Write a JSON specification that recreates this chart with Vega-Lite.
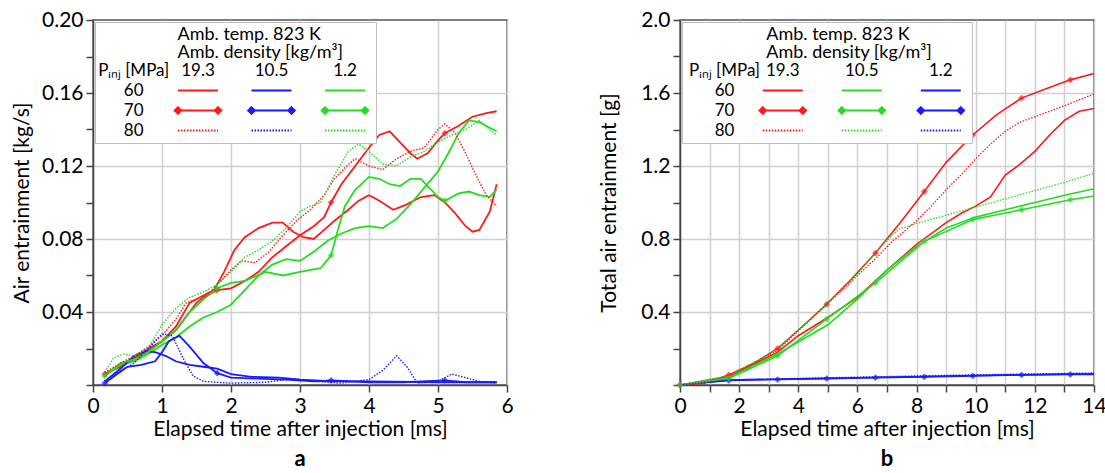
{
  "$schema": "https://vega.github.io/schema/vega-lite/v6.json",
  "background": "white",
  "padding": {"left": 10, "top": 8, "right": 2, "bottom": 2},
  "spacing": 83,
  "resolve": {"scale": {"color": "independent"}, "legend": {"color": "independent"}},
  "config": {
    "font": "Lato",
    "view": {"stroke": "#555", "strokeWidth": 1.5},
    "axis": {"labelFont": "Lato", "titleFont": "Lato", "labelFontSize": 21, "titleFontSize": 21, "titleFontWeight": "normal", "labelColor": "#000", "titleColor": "#000", "domainColor": "#444", "domainWidth": 1.5, "tickColor": "#444", "tickWidth": 1.5, "tickSize": 7, "labelPadding": 3, "titlePadding": 6, "gridColor": "#d0d0d0", "gridWidth": 1.5, "labelFlush": false, "labelOverlap": false},
    "axisX": {"titlePadding": 2},
    "legend": {"orient": "top-left", "offset": 2, "columns": 4, "gridAlign": "all", "rowPadding": 2, "symbolSize": 64, "symbolStrokeWidth": 1.8, "labelAlign": "center", "labelFont": "Lato", "labelFontSize": 17, "labelColor": "#000", "titleFont": "Lato", "titleFontSize": 18, "titleFontWeight": "normal", "titleColor": "#000", "titleLineHeight": 18, "titlePadding": 0, "titleLimit": 400, "padding": 4, "strokeColor": "#bdbdbd", "fillColor": "#fff", "direction": "vertical"},
    "title": {"font": "Lato", "fontSize": 22, "fontWeight": "bold", "color": "#000"}
  },
  "datasets": {
    "pa": [
      {"k":"s60a","t":0.17,"v":0.006},{"k":"s60a","t":0.4,"v":0.011},{"k":"s60a","t":0.6,"v":0.015},{"k":"s60a","t":0.8,"v":0.019},{"k":"s60a","t":1.0,"v":0.024},{"k":"s60a","t":1.2,"v":0.032},{"k":"s60a","t":1.4,"v":0.045},{"k":"s60a","t":1.6,"v":0.049},{"k":"s60a","t":1.75,"v":0.052},{"k":"s60a","t":1.9,"v":0.062},{"k":"s60a","t":2.05,"v":0.074},{"k":"s60a","t":2.2,"v":0.081},{"k":"s60a","t":2.4,"v":0.086},{"k":"s60a","t":2.6,"v":0.089},{"k":"s60a","t":2.75,"v":0.089},{"k":"s60a","t":2.9,"v":0.084},{"k":"s60a","t":3.05,"v":0.081},{"k":"s60a","t":3.2,"v":0.080},{"k":"s60a","t":3.35,"v":0.085},{"k":"s60a","t":3.5,"v":0.090},{"k":"s60a","t":3.7,"v":0.096},{"k":"s60a","t":3.85,"v":0.101},{"k":"s60a","t":4.0,"v":0.104},{"k":"s60a","t":4.15,"v":0.101},{"k":"s60a","t":4.35,"v":0.096},{"k":"s60a","t":4.55,"v":0.099},{"k":"s60a","t":4.75,"v":0.103},{"k":"s60a","t":4.95,"v":0.104},{"k":"s60a","t":5.1,"v":0.100},{"k":"s60a","t":5.25,"v":0.094},{"k":"s60a","t":5.4,"v":0.087},{"k":"s60a","t":5.5,"v":0.084},{"k":"s60a","t":5.6,"v":0.085},{"k":"s60a","t":5.75,"v":0.095},{"k":"s60a","t":5.85,"v":0.110},
      {"k":"s80a","t":0.17,"v":0.007},{"k":"s80a","t":0.4,"v":0.012},{"k":"s80a","t":0.6,"v":0.016},{"k":"s80a","t":0.8,"v":0.021},{"k":"s80a","t":1.0,"v":0.027},{"k":"s80a","t":1.2,"v":0.036},{"k":"s80a","t":1.35,"v":0.045},{"k":"s80a","t":1.5,"v":0.047},{"k":"s80a","t":1.65,"v":0.049},{"k":"s80a","t":1.8,"v":0.055},{"k":"s80a","t":2.0,"v":0.063},{"k":"s80a","t":2.15,"v":0.068},{"k":"s80a","t":2.35,"v":0.067},{"k":"s80a","t":2.55,"v":0.073},{"k":"s80a","t":2.75,"v":0.082},{"k":"s80a","t":2.95,"v":0.090},{"k":"s80a","t":3.15,"v":0.096},{"k":"s80a","t":3.35,"v":0.104},{"k":"s80a","t":3.5,"v":0.113},{"k":"s80a","t":3.65,"v":0.119},{"k":"s80a","t":3.8,"v":0.124},{"k":"s80a","t":4.0,"v":0.120},{"k":"s80a","t":4.2,"v":0.118},{"k":"s80a","t":4.4,"v":0.124},{"k":"s80a","t":4.6,"v":0.128},{"k":"s80a","t":4.8,"v":0.130},{"k":"s80a","t":5.0,"v":0.140},{"k":"s80a","t":5.1,"v":0.143},{"k":"s80a","t":5.25,"v":0.138},{"k":"s80a","t":5.4,"v":0.127},{"k":"s80a","t":5.55,"v":0.115},{"k":"s80a","t":5.7,"v":0.104},{"k":"s80a","t":5.85,"v":0.098},
      {"k":"s70a","t":0.17,"v":0.006,"m":1},{"k":"s70a","t":0.4,"v":0.010},{"k":"s70a","t":0.6,"v":0.014},{"k":"s70a","t":0.8,"v":0.020},{"k":"s70a","t":1.0,"v":0.024},{"k":"s70a","t":1.2,"v":0.030},{"k":"s70a","t":1.4,"v":0.040},{"k":"s70a","t":1.5,"v":0.045},{"k":"s70a","t":1.6,"v":0.048},{"k":"s70a","t":1.8,"v":0.052,"m":1},{"k":"s70a","t":2.0,"v":0.053},{"k":"s70a","t":2.2,"v":0.057},{"k":"s70a","t":2.4,"v":0.062},{"k":"s70a","t":2.6,"v":0.070},{"k":"s70a","t":2.8,"v":0.076},{"k":"s70a","t":3.0,"v":0.082},{"k":"s70a","t":3.2,"v":0.087},{"k":"s70a","t":3.35,"v":0.092},{"k":"s70a","t":3.45,"v":0.100,"m":1},{"k":"s70a","t":3.6,"v":0.110},{"k":"s70a","t":3.8,"v":0.120},{"k":"s70a","t":4.0,"v":0.130},{"k":"s70a","t":4.15,"v":0.137},{"k":"s70a","t":4.3,"v":0.139},{"k":"s70a","t":4.45,"v":0.133},{"k":"s70a","t":4.6,"v":0.127},{"k":"s70a","t":4.7,"v":0.124},{"k":"s70a","t":4.85,"v":0.127},{"k":"s70a","t":5.0,"v":0.134},{"k":"s70a","t":5.1,"v":0.138,"m":1},{"k":"s70a","t":5.3,"v":0.142},{"k":"s70a","t":5.5,"v":0.147},{"k":"s70a","t":5.7,"v":0.149},{"k":"s70a","t":5.85,"v":0.150},
      {"k":"s60c","t":0.17,"v":0.005},{"k":"s60c","t":0.4,"v":0.011},{"k":"s60c","t":0.6,"v":0.013},{"k":"s60c","t":0.8,"v":0.017},{"k":"s60c","t":1.0,"v":0.022},{"k":"s60c","t":1.2,"v":0.026},{"k":"s60c","t":1.4,"v":0.032},{"k":"s60c","t":1.6,"v":0.037},{"k":"s60c","t":1.8,"v":0.040},{"k":"s60c","t":2.0,"v":0.044},{"k":"s60c","t":2.2,"v":0.052},{"k":"s60c","t":2.4,"v":0.060},{"k":"s60c","t":2.6,"v":0.066},{"k":"s60c","t":2.8,"v":0.069},{"k":"s60c","t":3.0,"v":0.068},{"k":"s60c","t":3.2,"v":0.073},{"k":"s60c","t":3.4,"v":0.079},{"k":"s60c","t":3.6,"v":0.083},{"k":"s60c","t":3.8,"v":0.086},{"k":"s60c","t":4.0,"v":0.087},{"k":"s60c","t":4.2,"v":0.086},{"k":"s60c","t":4.4,"v":0.091},{"k":"s60c","t":4.6,"v":0.099},{"k":"s60c","t":4.8,"v":0.108},{"k":"s60c","t":5.0,"v":0.117},{"k":"s60c","t":5.15,"v":0.127},{"k":"s60c","t":5.3,"v":0.138},{"k":"s60c","t":5.45,"v":0.145},{"k":"s60c","t":5.6,"v":0.144},{"k":"s60c","t":5.75,"v":0.141},{"k":"s60c","t":5.85,"v":0.139},
      {"k":"s80c","t":0.17,"v":0.007},{"k":"s80c","t":0.3,"v":0.015},{"k":"s80c","t":0.45,"v":0.017},{"k":"s80c","t":0.6,"v":0.016},{"k":"s80c","t":0.8,"v":0.020},{"k":"s80c","t":1.0,"v":0.033},{"k":"s80c","t":1.2,"v":0.042},{"k":"s80c","t":1.4,"v":0.048},{"k":"s80c","t":1.6,"v":0.051},{"k":"s80c","t":1.8,"v":0.055},{"k":"s80c","t":2.0,"v":0.062},{"k":"s80c","t":2.2,"v":0.070},{"k":"s80c","t":2.4,"v":0.074},{"k":"s80c","t":2.6,"v":0.079},{"k":"s80c","t":2.8,"v":0.086},{"k":"s80c","t":3.0,"v":0.095},{"k":"s80c","t":3.15,"v":0.098},{"k":"s80c","t":3.3,"v":0.100},{"k":"s80c","t":3.5,"v":0.115},{"k":"s80c","t":3.7,"v":0.128},{"k":"s80c","t":3.85,"v":0.132},{"k":"s80c","t":4.0,"v":0.128},{"k":"s80c","t":4.2,"v":0.121},{"k":"s80c","t":4.4,"v":0.120},{"k":"s80c","t":4.6,"v":0.125},{"k":"s80c","t":4.8,"v":0.128},{"k":"s80c","t":5.0,"v":0.133},{"k":"s80c","t":5.2,"v":0.137},{"k":"s80c","t":5.4,"v":0.140},{"k":"s80c","t":5.6,"v":0.145},{"k":"s80c","t":5.75,"v":0.140},{"k":"s80c","t":5.85,"v":0.137},
      {"k":"s60b","t":0.17,"v":0.002},{"k":"s60b","t":0.4,"v":0.009},{"k":"s60b","t":0.6,"v":0.016},{"k":"s60b","t":0.75,"v":0.0185},{"k":"s60b","t":0.9,"v":0.018},{"k":"s60b","t":1.05,"v":0.016},{"k":"s60b","t":1.2,"v":0.013},{"k":"s60b","t":1.4,"v":0.011},{"k":"s60b","t":1.6,"v":0.010},{"k":"s60b","t":1.8,"v":0.009},{"k":"s60b","t":2.0,"v":0.006},{"k":"s60b","t":2.3,"v":0.0045},{"k":"s60b","t":2.7,"v":0.004},{"k":"s60b","t":3.0,"v":0.003},{"k":"s60b","t":3.5,"v":0.002},{"k":"s60b","t":4.0,"v":0.002},{"k":"s60b","t":5.0,"v":0.0015},{"k":"s60b","t":5.85,"v":0.0015},
      {"k":"s80b","t":0.17,"v":0.002},{"k":"s80b","t":0.4,"v":0.008},{"k":"s80b","t":0.6,"v":0.012},{"k":"s80b","t":0.8,"v":0.020},{"k":"s80b","t":1.0,"v":0.028},{"k":"s80b","t":1.15,"v":0.027},{"k":"s80b","t":1.3,"v":0.015},{"k":"s80b","t":1.45,"v":0.005},{"k":"s80b","t":1.6,"v":0.002},{"k":"s80b","t":2.0,"v":0.001},{"k":"s80b","t":2.5,"v":0.0015},{"k":"s80b","t":2.9,"v":0.0035},{"k":"s80b","t":3.2,"v":0.002},{"k":"s80b","t":3.6,"v":0.001},{"k":"s80b","t":4.0,"v":0.003},{"k":"s80b","t":4.2,"v":0.008},{"k":"s80b","t":4.4,"v":0.016},{"k":"s80b","t":4.55,"v":0.010},{"k":"s80b","t":4.7,"v":0.001},{"k":"s80b","t":5.0,"v":0.002},{"k":"s80b","t":5.2,"v":0.006},{"k":"s80b","t":5.4,"v":0.004},{"k":"s80b","t":5.6,"v":0.002},{"k":"s80b","t":5.85,"v":0.001},
      {"k":"s70b","t":0.17,"v":0.001,"m":1},{"k":"s70b","t":0.35,"v":0.006},{"k":"s70b","t":0.5,"v":0.010},{"k":"s70b","t":0.7,"v":0.011},{"k":"s70b","t":0.9,"v":0.013},{"k":"s70b","t":1.0,"v":0.018},{"k":"s70b","t":1.1,"v":0.024},{"k":"s70b","t":1.25,"v":0.027},{"k":"s70b","t":1.4,"v":0.021},{"k":"s70b","t":1.6,"v":0.012},{"k":"s70b","t":1.8,"v":0.0065,"m":1},{"k":"s70b","t":2.0,"v":0.004},{"k":"s70b","t":2.4,"v":0.0035},{"k":"s70b","t":2.8,"v":0.003},{"k":"s70b","t":3.2,"v":0.002},{"k":"s70b","t":3.45,"v":0.0025,"m":1},{"k":"s70b","t":4.0,"v":0.0015},{"k":"s70b","t":4.5,"v":0.0015},{"k":"s70b","t":5.1,"v":0.0025,"m":1},{"k":"s70b","t":5.4,"v":0.0015},{"k":"s70b","t":5.85,"v":0.0015},
      {"k":"s70c","t":0.17,"v":0.005,"m":1},{"k":"s70c","t":0.4,"v":0.012},{"k":"s70c","t":0.6,"v":0.014},{"k":"s70c","t":0.8,"v":0.018},{"k":"s70c","t":1.0,"v":0.024},{"k":"s70c","t":1.2,"v":0.030},{"k":"s70c","t":1.4,"v":0.040},{"k":"s70c","t":1.6,"v":0.047},{"k":"s70c","t":1.8,"v":0.053,"m":1},{"k":"s70c","t":2.0,"v":0.056},{"k":"s70c","t":2.2,"v":0.057},{"k":"s70c","t":2.5,"v":0.062},{"k":"s70c","t":2.75,"v":0.060},{"k":"s70c","t":3.0,"v":0.062},{"k":"s70c","t":3.3,"v":0.064},{"k":"s70c","t":3.45,"v":0.071,"m":1},{"k":"s70c","t":3.55,"v":0.085},{"k":"s70c","t":3.65,"v":0.098},{"k":"s70c","t":3.8,"v":0.107},{"k":"s70c","t":4.0,"v":0.114},{"k":"s70c","t":4.15,"v":0.113},{"k":"s70c","t":4.3,"v":0.110},{"k":"s70c","t":4.45,"v":0.109},{"k":"s70c","t":4.6,"v":0.113},{"k":"s70c","t":4.75,"v":0.113},{"k":"s70c","t":4.9,"v":0.107},{"k":"s70c","t":5.0,"v":0.103},{"k":"s70c","t":5.1,"v":0.101,"m":1},{"k":"s70c","t":5.3,"v":0.105},{"k":"s70c","t":5.45,"v":0.106},{"k":"s70c","t":5.6,"v":0.104},{"k":"s70c","t":5.75,"v":0.103},{"k":"s70c","t":5.85,"v":0.107}
    ],
    "pb": [
      {"k":"s60a","t":0,"v":0},{"k":"s60a","t":1.65,"v":0.045},{"k":"s60a","t":3.3,"v":0.18},{"k":"s60a","t":4.0,"v":0.27},{"k":"s60a","t":5.0,"v":0.37},{"k":"s60a","t":6.0,"v":0.48},{"k":"s60a","t":7.0,"v":0.63},{"k":"s60a","t":8.0,"v":0.77},{"k":"s60a","t":8.5,"v":0.83},{"k":"s60a","t":9.0,"v":0.89},{"k":"s60a","t":9.5,"v":0.94},{"k":"s60a","t":10.0,"v":0.98},{"k":"s60a","t":10.5,"v":1.03},{"k":"s60a","t":11.0,"v":1.15},{"k":"s60a","t":11.5,"v":1.21},{"k":"s60a","t":12.0,"v":1.28},{"k":"s60a","t":12.5,"v":1.37},{"k":"s60a","t":13.0,"v":1.45},{"k":"s60a","t":13.5,"v":1.50},{"k":"s60a","t":14.0,"v":1.515},
      {"k":"s80a","t":0,"v":0},{"k":"s80a","t":1.65,"v":0.05},{"k":"s80a","t":3.3,"v":0.19},{"k":"s80a","t":4.96,"v":0.44},{"k":"s80a","t":6.0,"v":0.60},{"k":"s80a","t":6.6,"v":0.69},{"k":"s80a","t":7.2,"v":0.79},{"k":"s80a","t":8.0,"v":0.90},{"k":"s80a","t":8.5,"v":0.98},{"k":"s80a","t":9.0,"v":1.07},{"k":"s80a","t":9.5,"v":1.15},{"k":"s80a","t":10.0,"v":1.24},{"k":"s80a","t":10.5,"v":1.32},{"k":"s80a","t":11.0,"v":1.39},{"k":"s80a","t":11.5,"v":1.44},{"k":"s80a","t":12.0,"v":1.47},{"k":"s80a","t":13.0,"v":1.53},{"k":"s80a","t":14.0,"v":1.595},
      {"k":"s60b","t":0,"v":0},{"k":"s60b","t":1.65,"v":0.04},{"k":"s60b","t":3.3,"v":0.17},{"k":"s60b","t":5.0,"v":0.33},{"k":"s60b","t":6.0,"v":0.47},{"k":"s60b","t":7.0,"v":0.63},{"k":"s60b","t":8.0,"v":0.76},{"k":"s60b","t":9.0,"v":0.86},{"k":"s60b","t":10.0,"v":0.92},{"k":"s60b","t":11.0,"v":0.96},{"k":"s60b","t":12.0,"v":1.0},{"k":"s60b","t":13.0,"v":1.04},{"k":"s60b","t":14.0,"v":1.075},
      {"k":"s80b","t":0,"v":0},{"k":"s80b","t":1.65,"v":0.05},{"k":"s80b","t":3.3,"v":0.195},{"k":"s80b","t":4.96,"v":0.44},{"k":"s80b","t":6.0,"v":0.61},{"k":"s80b","t":6.8,"v":0.76},{"k":"s80b","t":7.4,"v":0.855},{"k":"s80b","t":8.0,"v":0.885},{"k":"s80b","t":9.0,"v":0.93},{"k":"s80b","t":10.0,"v":0.975},{"k":"s80b","t":11.0,"v":1.02},{"k":"s80b","t":12.0,"v":1.065},{"k":"s80b","t":13.0,"v":1.11},{"k":"s80b","t":14.0,"v":1.16},
      {"k":"s60c","t":0,"v":0},{"k":"s60c","t":1.65,"v":0.027},{"k":"s60c","t":5.0,"v":0.037},{"k":"s60c","t":10.0,"v":0.052},{"k":"s60c","t":14.0,"v":0.062},
      {"k":"s80c","t":0,"v":0},{"k":"s80c","t":1.65,"v":0.028},{"k":"s80c","t":5.0,"v":0.040},{"k":"s80c","t":10.0,"v":0.056},{"k":"s80c","t":14.0,"v":0.066},
      {"k":"s70c","t":0,"v":0,"m":1},{"k":"s70c","t":1.65,"v":0.025,"m":1},{"k":"s70c","t":3.3,"v":0.030,"m":1},{"k":"s70c","t":4.96,"v":0.035,"m":1},{"k":"s70c","t":6.61,"v":0.040,"m":1},{"k":"s70c","t":8.26,"v":0.044,"m":1},{"k":"s70c","t":9.9,"v":0.050,"m":1},{"k":"s70c","t":11.55,"v":0.055,"m":1},{"k":"s70c","t":13.2,"v":0.058,"m":1},{"k":"s70c","t":14,"v":0.058},
      {"k":"s70a","t":0,"v":0,"m":1},{"k":"s70a","t":0.8,"v":0.01},{"k":"s70a","t":1.65,"v":0.055,"m":1},{"k":"s70a","t":2.5,"v":0.12},{"k":"s70a","t":3.3,"v":0.200,"m":1},{"k":"s70a","t":4.1,"v":0.315},{"k":"s70a","t":4.96,"v":0.443,"m":1},{"k":"s70a","t":5.8,"v":0.58},{"k":"s70a","t":6.61,"v":0.723,"m":1},{"k":"s70a","t":7.4,"v":0.88},{"k":"s70a","t":8.26,"v":1.060,"m":1},{"k":"s70a","t":9.0,"v":1.22},{"k":"s70a","t":9.9,"v":1.370,"m":1},{"k":"s70a","t":10.7,"v":1.48},{"k":"s70a","t":11.55,"v":1.572,"m":1},{"k":"s70a","t":12.4,"v":1.625},{"k":"s70a","t":13.2,"v":1.672,"m":1},{"k":"s70a","t":14,"v":1.707},
      {"k":"s70b","t":0,"v":0,"m":1},{"k":"s70b","t":1.65,"v":0.036,"m":1},{"k":"s70b","t":3.3,"v":0.160,"m":1},{"k":"s70b","t":4.96,"v":0.361,"m":1},{"k":"s70b","t":6.61,"v":0.559,"m":1},{"k":"s70b","t":8.26,"v":0.787,"m":1},{"k":"s70b","t":9.9,"v":0.907,"m":1},{"k":"s70b","t":11.55,"v":0.960,"m":1},{"k":"s70b","t":13.2,"v":1.015,"m":1},{"k":"s70b","t":14,"v":1.036}
    ]
  },
  "hconcat": [
    {
      "width": 414, "height": 365,
      "data": {"name": "pa"},
      "title": {"text": "a", "orient": "bottom", "anchor": "middle", "offset": 10},
      "encoding": {
        "x": {"field": "t", "type": "quantitative", "scale": {"domain": [0, 6], "nice": false}, "axis": {"values": [0,1,2,3,4,5,6], "format": "d", "title": "Elapsed time after injection [ms]"}},
        "y": {"field": "v", "type": "quantitative", "scale": {"domain": [0, 0.2], "nice": false},
          "axis": {"title": "Air entrainment [kg/s]", "titlePadding": 9, "values": [0,0.02,0.04,0.06,0.08,0.1,0.12,0.14,0.16,0.18,0.2],
            "labelExpr": "datum.value > 0.001 && abs(datum.value*25 - round(datum.value*25)) < 0.001 ? format(datum.value, '.2f') : ''",
            "grid": true,
            "gridOpacity": {"condition": {"test": "datum.value > 0.001 && datum.value < 0.199 && abs(datum.value*25 - round(datum.value*25)) < 0.001", "value": 1}, "value": 0}}},
        "color": {"field": "k", "type": "nominal",
          "scale": {"domain": ["h0","r60","r70","r80","h1","s60a","s70a","s80a","h2","s60b","s70b","s80b","h3","s60c","s70c","s80c"],
                    "range": ["#ffffff","#ffffff","#ffffff","#ffffff","#ffffff","#ff1a1a","#ff1a1a","#ff1a1a","#ffffff","#1a1aff","#1a1aff","#1a1aff","#ffffff","#22dd22","#22dd22","#22dd22"]},
          "legend": {
            "title": ["Amb. temp. 823 K", "Amb. density [kg/m³]"],
            "titleFontSize": 18,
            "titleLimit": 400,
            "columnPadding": 0.5,
            "labelOffset": 8.5,
            "labelExpr": "datum.value == 'h0' ? 'Pᵢₙⱼ [MPa]' : datum.value == 'h1' ? '19.3' : datum.value == 'h2' ? '10.5' : datum.value == 'h3' ? '1.2' : datum.value == 'r60' ? '60' : datum.value == 'r70' ? '70' : datum.value == 'r80' ? '80' : ''",
            "encode": {
              "symbols": {"update": {
                "shape": {"signal": "indexof(['s70a','s70b','s70c'], datum.value) >= 0 ? 'M-0.75,0L9.25,0M-0.75,-0.85L0.1,0L-0.75,0.85L-1.6,0ZM9.25,-0.85L10.1,0L9.25,0.85L8.4,0Z' : 'M-0.75,0L9.25,0'"},
                "opacity": {"signal": "slice(datum.value, 0, 1) == 's' ? 1 : 0"},
                "strokeDash": {"signal": "indexof(['s80a','s80b','s80c'], datum.value) >= 0 ? [1.5, 1.5] : [1, 0]"}
              }},
              "labels": {"update": {"dx": {"signal": "indexof(['h0','r60','r70','r80'], datum.value) >= 0 ? 9.2 : 0"}}},
              "title": {"update": {"dx": {"value": 78.5}}}
            }
          }}
      },
      "layer": [
        {"transform": [{"filter": "indexof(['s80a','s80b','s80c'], datum.k) < 0"}], "mark": {"type": "line", "strokeWidth": 1.8}},
        {"transform": [{"filter": "indexof(['s80a','s80b','s80c'], datum.k) >= 0"}], "mark": {"type": "line", "strokeWidth": 1.4, "strokeDash": [1.5, 1.5]}},
        {"transform": [{"filter": "datum.m == 1"}], "mark": {"type": "point", "shape": "diamond", "filled": true, "size": 45}}
      ]
    },
    {
      "width": 414, "height": 365,
      "data": {"name": "pb"},
      "title": {"text": "b", "orient": "bottom", "anchor": "middle", "offset": 10},
      "encoding": {
        "x": {"field": "t", "type": "quantitative", "scale": {"domain": [0, 14], "nice": false}, "axis": {"values": [0,1,2,3,4,5,6,7,8,9,10,11,12,13,14], "labelExpr": "datum.value % 2 == 0 ? format(datum.value, 'd') : ''", "title": "Elapsed time after injection [ms]"}},
        "y": {"field": "v", "type": "quantitative", "scale": {"domain": [0, 2], "nice": false},
          "axis": {"title": "Total air entrainment [g]", "titlePadding": 21, "values": [0,0.2,0.4,0.6,0.8,1,1.2,1.4,1.6,1.8,2],
            "labelExpr": "datum.value > 0.01 && abs(datum.value*2.5 - round(datum.value*2.5)) < 0.001 ? format(datum.value, '.1f') : ''",
            "grid": true,
            "gridOpacity": {"condition": {"test": "datum.value > 0.01 && datum.value < 1.99 && abs(datum.value*2.5 - round(datum.value*2.5)) < 0.001", "value": 1}, "value": 0}}},
        "color": {"field": "k", "type": "nominal",
          "scale": {"domain": ["h0","r60","r70","r80","h1","s60a","s70a","s80a","h2","s60b","s70b","s80b","h3","s60c","s70c","s80c"],
                    "range": ["#ffffff","#ffffff","#ffffff","#ffffff","#ffffff","#ff1a1a","#ff1a1a","#ff1a1a","#ffffff","#22dd22","#22dd22","#22dd22","#ffffff","#1a1aff","#1a1aff","#1a1aff"]},
          "legend": {
            "title": ["Amb. temp. 823 K", "Amb. density [kg/m³]"],
            "titleFontSize": 18,
            "titleLimit": 400,
            "columnPadding": -6,
            "labelOffset": 0.8,
            "labelExpr": "datum.value == 'h0' ? 'Pᵢₙⱼ [MPa]' : datum.value == 'h1' ? '19.3' : datum.value == 'h2' ? '10.5' : datum.value == 'h3' ? '1.2' : datum.value == 'r60' ? '60' : datum.value == 'r70' ? '70' : datum.value == 'r80' ? '80' : ''",
            "encode": {
              "symbols": {"update": {
                "shape": {"signal": "indexof(['s70a','s70b','s70c'], datum.value) >= 0 ? 'M-2.675,0L7.325,0M-2.675,-0.85L-1.825,0L-2.675,0.85L-3.525,0ZM7.325,-0.85L8.175,0L7.325,0.85L6.475,0Z' : 'M-2.675,0L7.325,0'"},
                "opacity": {"signal": "slice(datum.value, 0, 1) == 's' ? 1 : 0"},
                "strokeDash": {"signal": "indexof(['s80a','s80b','s80c'], datum.value) >= 0 ? [1.5, 1.5] : [1, 0]"}
              }},
              "labels": {"update": {"dx": {"signal": "indexof(['h0','r60','r70','r80'], datum.value) >= 0 ? 20.7 : 0"}}},
              "title": {"update": {"dx": {"value": 80.3}}}
            }
          }}
      },
      "layer": [
        {"transform": [{"filter": "indexof(['s80a','s80b','s80c'], datum.k) < 0"}], "mark": {"type": "line", "strokeWidth": 1.6}},
        {"transform": [{"filter": "indexof(['s80a','s80b','s80c'], datum.k) >= 0"}], "mark": {"type": "line", "strokeWidth": 1.3, "strokeDash": [1.5, 1.5]}},
        {"transform": [{"filter": "datum.m == 1"}], "mark": {"type": "point", "shape": "diamond", "filled": true, "size": 45}}
      ]
    }
  ]
}
